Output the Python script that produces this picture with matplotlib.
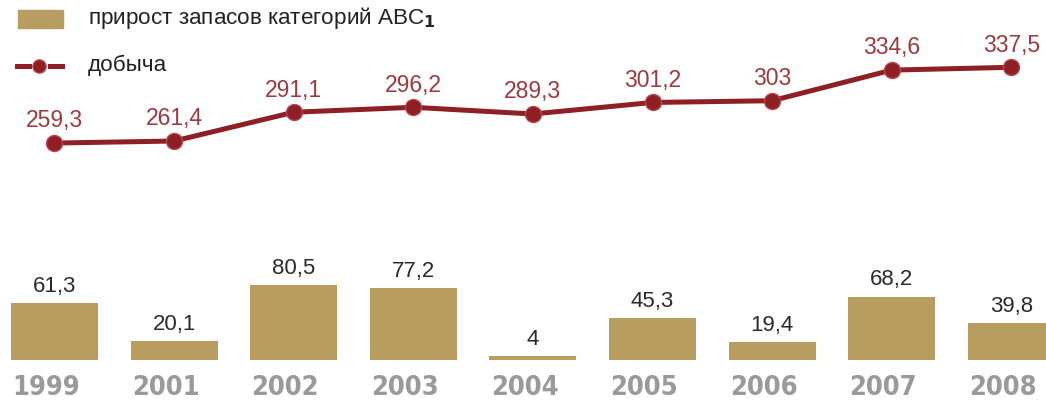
import matplotlib
matplotlib.use("Agg")
import matplotlib.pyplot as plt
from matplotlib.patches import Rectangle
from matplotlib.lines import Line2D

years = ["1999", "2001", "2002", "2003", "2004", "2005", "2006", "2007", "2008"]
reserves = [61.3, 20.1, 80.5, 77.2, 4, 45.3, 19.4, 68.2, 39.8]
production = [259.3, 261.4, 291.1, 296.2, 289.3, 301.2, 303, 334.6, 337.5]
legend_labels = ["прирост запасов категорий ABC$_\\mathbf{1}$", "добыча"]

BAR_C = "#b89c60"
LINE_C = "#8e1f24"
LAB_C = "#9c3a3e"
YEAR_C = "#9a9a9c"
FONT = ["Liberation Sans", "DejaVu Sans"]

W, H = 1046, 401
fig = plt.figure(figsize=(W / 100, H / 100), dpi=100)
fig.patch.set_facecolor("white")

x = list(range(len(years)))
step = 119.6
x0 = 54.5
xlim = (-x0 / step, (W - x0) / step)

# bar axes
axb = fig.add_axes([0, (H - 360) / H, 1, 93 / H])
axb.set_xlim(*xlim)
axb.set_ylim(0, 100)
axb.bar(x, reserves, width=0.727, color=BAR_C)
for xi, v in zip(x, reserves):
    axb.annotate(f"{v:g}".replace(".", ","), (xi, v), xytext=(0, 12), textcoords="offset points",
                 ha="center", va="center", fontsize=16, color="#2a2a2a", family=FONT)
axb.axis("off")

# year labels
for xi, yr in zip(x, years):
    axb.annotate(yr, (xi, 0), xytext=(-6, -20), textcoords="offset points", ha="center", va="center",
                 fontsize=19.5, fontweight="bold", color=YEAR_C,
                 family=["DejaVu Sans"], fontstretch="condensed")

# line axes
axl = fig.add_axes([0, (H - 200.5) / H, 1, 155 / H])
axl.set_xlim(*xlim)
axl.set_ylim(200, 360)
axl.plot(x, production, color=LINE_C, lw=3.6, marker="o", markersize=11.5,
         markerfacecolor=LINE_C, markeredgecolor="#b5474e", markeredgewidth=1)
for xi, v in zip(x, production):
    axl.annotate(f"{v:g}".replace(".", ","), (xi, v), xytext=(0, 16), textcoords="offset points",
                 ha="center", va="center", fontsize=16.5, color=LAB_C, family=FONT)
axl.axis("off")

# legend
fig.patches.append(Rectangle((18 / W, 1 - 28 / H), 45 / W, 18 / H, transform=fig.transFigure,
                             color=BAR_C, figure=fig))
ly = 1 - 66 / H
fig.lines.append(Line2D([17 / W, 29 / W], [ly, ly], transform=fig.transFigure,
                        color=LINE_C, lw=3.6, figure=fig))
fig.lines.append(Line2D([50 / W, 62 / W], [ly, ly], transform=fig.transFigure,
                        color=LINE_C, lw=3.6, figure=fig))
fig.lines.append(Line2D([39 / W], [ly], transform=fig.transFigure, color=LINE_C,
                        marker="o", markersize=9.5, markeredgecolor="#b5474e", markeredgewidth=1,
                        figure=fig))
fig.text(88 / W, 1 - 18 / H, legend_labels[0], fontsize=16.2, color="#222222", va="center",
         ha="left", family=FONT)
fig.text(88 / W, 1 - 65 / H, legend_labels[1], fontsize=16.2, color="#222222", va="center",
         ha="left", family=FONT)

fig.savefig("out.png", dpi=100)
